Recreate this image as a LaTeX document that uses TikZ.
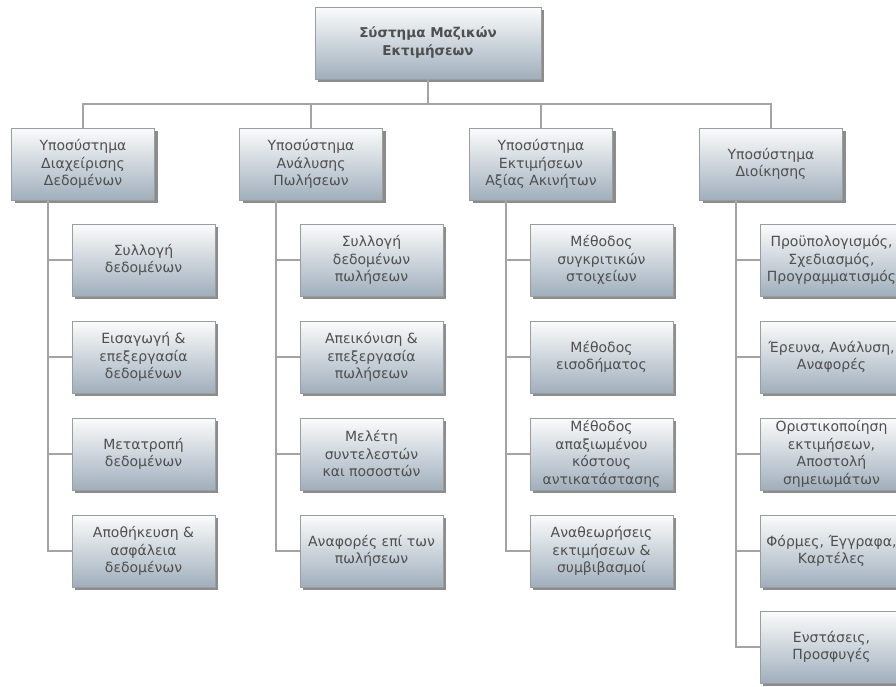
\documentclass[tikz,border=0pt]{standalone}
\usepackage{fontspec}
\setmainfont{DejaVu Sans}
\usepackage{xcolor}
\usetikzlibrary{shadows,calc}

\definecolor{boxtop}{HTML}{FBFCFC}
\definecolor{boxbot}{HTML}{A0AFBC}
\definecolor{boxline}{HTML}{9C9C9C}
\definecolor{linkgray}{HTML}{A4A4A4}
\definecolor{txtgray}{HTML}{4F4F4F}

\begin{document}
\begin{tikzpicture}[x=1pt, y=-1pt,
    box/.style={draw=boxline, line width=0.8pt, top color=boxtop, bottom color=boxbot,
        text=txtgray, align=center, minimum width=143pt, minimum height=72pt,
        inner xsep=1pt, inner ysep=1pt, font=\fontsize{14}{17.5}\selectfont,
        drop shadow={shadow xshift=3pt, shadow yshift=-3pt, fill=black, opacity=0.45}},
    link/.style={draw=linkgray, line width=1.5pt}]
    \useasboundingbox (0,0) rectangle (896,686);

    % Root
    \node[box, minimum width=226pt, font=\fontsize{13.5}{18}\selectfont\bfseries] (root) at (428,43) {Σύστημα Μαζικών\\Εκτιμήσεων};

    % Subsystems
    \node[box] (diax) at (83,164) {Υποσύστημα\\Διαχείρισης\\Δεδομένων};
    \node[box] (anal) at (311,164) {Υποσύστημα\\Ανάλυσης\\Πωλήσεων};
    \node[box] (ektim) at (541,164) {Υποσύστημα\\Εκτιμήσεων\\Αξίας Ακινήτων};
    \node[box] (dioik) at (771,164) {Υποσύστημα\\Διοίκησης};

    % Bar from root to subsystems
    \coordinate (bar) at (427,104);
    \draw[link] (root.south) -- (root.south |- bar);
    \draw[link] (diax.north) -- (diax.north |- bar) -- (dioik.north |- bar) -- (dioik.north);
    \draw[link] (anal.north) -- (anal.north |- bar);
    \draw[link] (ektim.north) -- (ektim.north |- bar);

    % Data management
    \node[box] (diax1) at (143.5,260) {Συλλογή\\δεδομένων};
    \node[box] (diax2) at (143.5,357) {Εισαγωγή \&\\επεξεργασία\\δεδομένων};
    \node[box] (diax3) at (143.5,454) {Μετατροπή\\δεδομένων};
    \node[box] (diax4) at (143.5,551) {Αποθήκευση \&\\ασφάλεια\\δεδομένων};

    % Sales analysis
    \node[box] (anal1) at (371.5,260) {Συλλογή\\δεδομένων\\πωλήσεων};
    \node[box] (anal2) at (371.5,357) {Απεικόνιση \&\\επεξεργασία\\πωλήσεων};
    \node[box] (anal3) at (371.5,454) {Μελέτη\\συντελεστών\\και ποσοστών};
    \node[box] (anal4) at (371.5,551) {Αναφορές επί των\\πωλήσεων};

    % Valuation
    \node[box] (ektim1) at (601.5,260) {Μέθοδος\\συγκριτικών\\στοιχείων};
    \node[box] (ektim2) at (601.5,357) {Μέθοδος\\εισοδήματος};
    \node[box] (ektim3) at (601.5,454) {Μέθοδος\\απαξιωμένου\\κόστους\\αντικατάστασης};
    \node[box] (ektim4) at (601.5,551) {Αναθεωρήσεις\\εκτιμήσεων \&\\συμβιβασμοί};

    % Administration
    \node[box] (dioik1) at (831.5,260) {Προϋπολογισμός,\\Σχεδιασμός,\\Προγραμματισμός};
    \node[box] (dioik2) at (831.5,357) {Έρευνα, Ανάλυση,\\Αναφορές};
    \node[box] (dioik3) at (831.5,454) {Οριστικοποίηση\\εκτιμήσεων,\\Αποστολή\\σημειωμάτων};
    \node[box] (dioik4) at (831.5,551) {Φόρμες, Έγγραφα,\\Καρτέλες};
    \node[box] (dioik5) at (831.5,647) {Ενστάσεις,\\Προσφυγές};

    % Trunks
    \coordinate (t1) at ($(diax.south west)+(37,0)$);
    \coordinate (t2) at ($(anal.south west)+(37,0)$);
    \coordinate (t3) at ($(ektim.south west)+(37,0)$);
    \coordinate (t4) at ($(dioik.south west)+(37,0)$);
    \draw[link] (t1) |- (diax4.west);
    \draw[link] (t1) |- (diax1.west);
    \draw[link] (t1) |- (diax2.west);
    \draw[link] (t1) |- (diax3.west);
    \draw[link] (t2) |- (anal4.west);
    \draw[link] (t2) |- (anal1.west);
    \draw[link] (t2) |- (anal2.west);
    \draw[link] (t2) |- (anal3.west);
    \draw[link] (t3) |- (ektim4.west);
    \draw[link] (t3) |- (ektim1.west);
    \draw[link] (t3) |- (ektim2.west);
    \draw[link] (t3) |- (ektim3.west);
    \draw[link] (t4) |- (dioik5.west);
    \draw[link] (t4) |- (dioik1.west);
    \draw[link] (t4) |- (dioik2.west);
    \draw[link] (t4) |- (dioik3.west);
    \draw[link] (t4) |- (dioik4.west);
\end{tikzpicture}
\end{document}
